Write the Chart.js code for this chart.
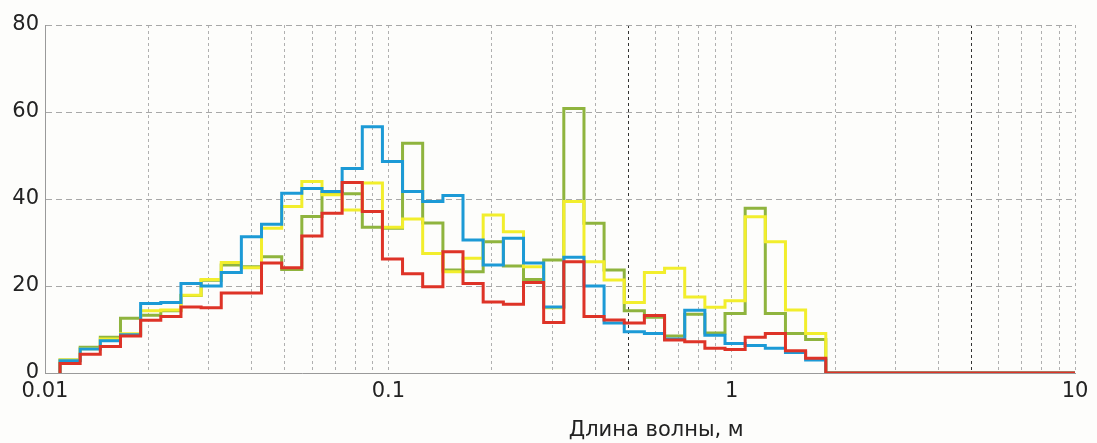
<!DOCTYPE html>
<html>
<head>
<meta charset="utf-8">
<script src="https://cdn.jsdelivr.net/npm/chart.js@4.4.0/dist/chart.umd.min.js"></script>
<style>
  html, body { margin: 0; padding: 0; background: #fdfdfb; }
  #wrap { width: 1097px; height: 443px; }
</style>
</head>
<body>
<div id="wrap"><canvas id="spectrum" width="1097" height="443"></canvas></div>
<script>
// histogram bin edges, wavelength in m (log-spaced bins)
const edges = [0.01106, 0.01266, 0.01449, 0.01659, 0.01899, 0.02174, 0.02489, 0.02849, 0.03261, 0.03732,
  0.04272, 0.04891, 0.05598, 0.06409, 0.07336, 0.08398, 0.09612, 0.1100, 0.1259, 0.1442,
  0.1650, 0.1889, 0.2163, 0.2476, 0.2834, 0.3244, 0.3714, 0.4250, 0.4865, 0.5569,
  0.6376, 0.7299, 0.8355, 0.9563, 1.0947, 1.2531, 1.4344, 1.6421, 1.880];
const xEnd = 10;

// one value per bin
const blueVals = [2.8, 5.5, 7.4, 8.8, 16.0, 16.2, 20.6, 20.0, 23.1, 31.3,
  34.2, 41.3, 42.4, 41.7, 47.0, 56.6, 48.6, 41.7, 39.4, 40.8,
  30.6, 24.8, 31.0, 25.3, 15.2, 26.6, 20.0, 11.5, 9.5, 9.1,
  7.8, 14.4, 8.7, 6.8, 6.3, 5.7, 4.7, 3.0];
const greenVals = [3.0, 5.9, 8.2, 12.6, 13.3, 14.3, 17.8, 21.3, 24.8, 24.4,
  26.7, 23.8, 36.0, 41.5, 41.2, 33.5, 33.3, 52.8, 34.5, 23.7,
  23.3, 30.2, 24.6, 21.5, 26.0, 60.8, 34.4, 23.7, 14.3, 12.8,
  8.5, 13.5, 9.2, 13.7, 37.9, 13.7, 9.1, 7.7];
const yellowVals = [3.0, 5.6, 7.8, 9.0, 14.3, 14.5, 17.9, 21.5, 25.4, 24.2,
  33.3, 38.3, 44.0, 41.0, 37.5, 43.7, 33.5, 35.4, 27.5, 23.3,
  26.4, 36.3, 32.5, 24.4, 15.0, 39.4, 25.6, 21.4, 16.2, 23.1,
  24.1, 17.5, 15.1, 16.6, 35.9, 30.2, 14.5, 9.1];
const redVals = [2.2, 4.3, 6.1, 8.5, 12.1, 13.0, 15.2, 15.0, 18.4, 18.4,
  25.3, 24.2, 31.5, 36.7, 43.8, 37.1, 26.2, 22.8, 19.8, 27.9,
  20.6, 16.3, 15.8, 20.8, 11.6, 25.6, 13.0, 12.2, 11.5, 13.2,
  7.6, 7.2, 5.7, 5.4, 8.2, 9.1, 5.1, 3.4];

const xTicks = [0.01, 0.02, 0.03, 0.04, 0.05, 0.06, 0.07, 0.08, 0.09,
  0.1, 0.2, 0.3, 0.4, 0.5, 0.6, 0.7, 0.8, 0.9,
  1, 2, 3, 4, 5, 6, 7, 8, 9, 10];
const xLabels = [0.01, 0.1, 1, 10];
const yTicks = [0, 20, 40, 60, 80];
const xTitle = 'Длина волны, м';

// step outline: rise at first edge, one point per bin, drop at last edge, flat to the end
function stepPoints(vals) {
  const pts = [{ x: edges[0], y: 0 }];
  vals.forEach((v, i) => pts.push({ x: edges[i], y: v }));
  pts.push({ x: edges[edges.length - 1], y: 0 });
  pts.push({ x: xEnd, y: 0 });
  return pts;
}

// 'before' in Chart.js = go across at the old level, then up/down
const series = (data, color) => ({
  data: stepPoints(data),
  borderColor: color,
  borderWidth: 3,
  pointRadius: 0,
  fill: false,
  stepped: 'before',
  tension: 0
});

const titlePlugin = {
  id: 'xTitle',
  afterDraw(chart) {
    const { ctx, scales: { x } } = chart;
    ctx.save();
    ctx.font = '21px "DejaVu Sans"';
    ctx.fillStyle = '#222';
    ctx.textAlign = 'right';
    ctx.textBaseline = 'middle';
    ctx.fillText(xTitle, x.getPixelForValue(1) + 12, x.bottom - 12);
    ctx.restore();
  }
};

new Chart(document.getElementById('spectrum'), {
  type: 'line',
  data: {
    // first dataset ends up on top
    datasets: [
      series(redVals, '#de3327'),
      series(blueVals, '#1c9ad6'),
      series(yellowVals, '#f2ee2c'),
      series(greenVals, '#8fb43e')
    ]
  },
  options: {
    responsive: false,
    animation: false,
    devicePixelRatio: 1,
    layout: { padding: { top: 25, right: 22, left: 0, bottom: 0 } },
    plugins: { legend: { display: false }, tooltip: { enabled: false } },
    scales: {
      x: {
        type: 'logarithmic',
        min: 0.01,
        max: 10,
        afterBuildTicks: s => { s.ticks = xTicks.map(v => ({ value: v, major: xLabels.includes(v) })); },
        afterFit: s => { s.height = 70; },
        ticks: {
          autoSkip: false,
          maxRotation: 0,
          padding: 6,
          color: '#222',
          font: { family: 'DejaVu Sans', size: 21 },
          callback: v => xLabels.includes(v) ? String(v) : ''
        },
        grid: {
          drawTicks: false,
          lineWidth: 1,
          color: c => (c.tick && (c.tick.value === 0.5 || c.tick.value === 5)) ? '#333' : '#b0b0b0'
        },
        border: { display: true, color: '#9a9a9a', width: 1, dash: [3, 3] }
      },
      y: {
        min: 0,
        max: 80,
        afterBuildTicks: s => { s.ticks = yTicks.map(v => ({ value: v })); },
        afterFit: s => { s.width = 45; },
        ticks: {
          padding: 6,
          color: '#222',
          font: { family: 'DejaVu Sans', size: 21 }
        },
        grid: { drawTicks: false, lineWidth: 1, color: '#a8a8a8' },
        border: { display: true, color: '#9a9a9a', width: 1, dash: [6, 4] }
      }
    }
  },
  plugins: [titlePlugin]
});
</script>
</body>
</html>
